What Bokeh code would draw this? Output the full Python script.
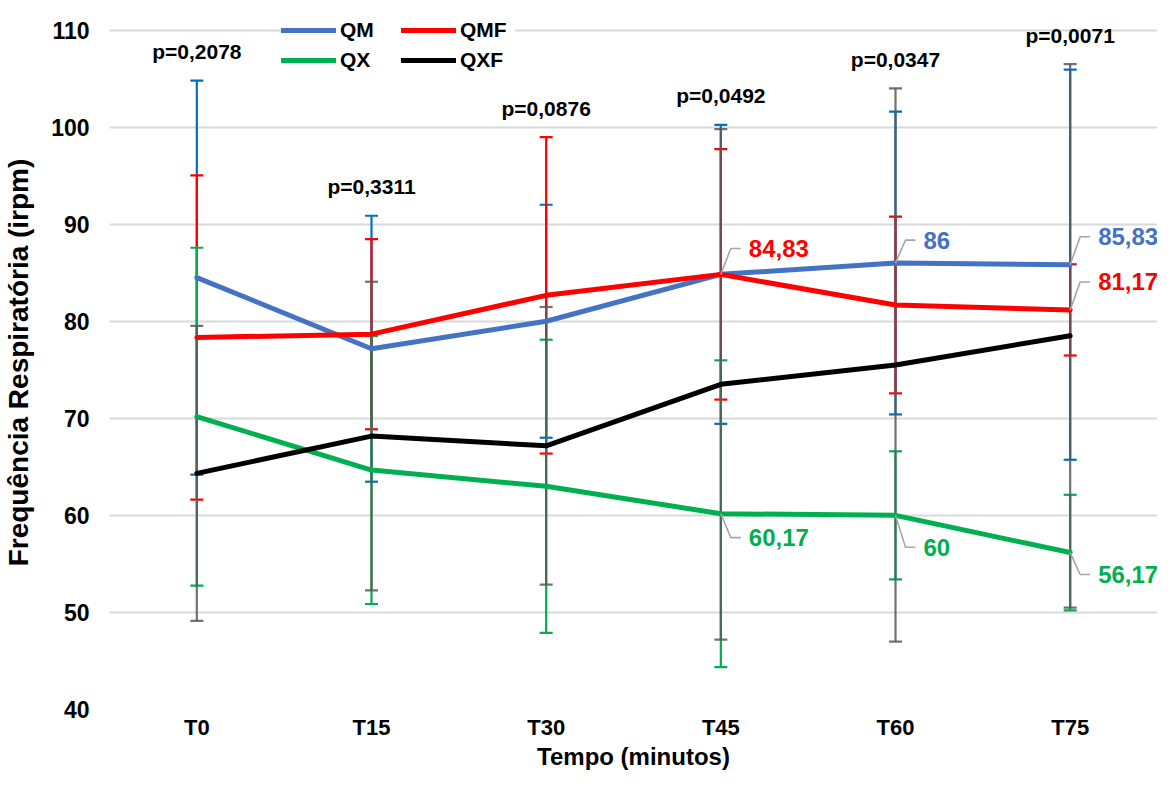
from bokeh.plotting import figure
from bokeh.models import FixedTicker, Legend, LegendItem, Range1d
from bokeh.embed import file_html
from bokeh.resources import INLINE
from bokeh.core.properties import value

# ---------------- data ----------------
categories = ["T0", "T15", "T30", "T45", "T60", "T75"]

qm_mean = [84.5, 77.17, 80.0, 84.83, 86.0, 85.83]
qm_sd = [20.3, 13.7, 12.0, 15.4, 15.6, 20.1]

qmf_mean = [78.33, 78.67, 82.67, 84.83, 81.67, 81.17]
qmf_sd = [16.7, 9.8, 16.3, 12.9, 9.1, 4.7]

qx_mean = [70.17, 64.67, 63.0, 60.17, 60.0, 56.17]
qx_sd = [17.4, 13.8, 15.1, 15.8, 6.6, 5.95]

qxf_mean = [64.33, 68.17, 67.17, 73.5, 75.5, 78.5]
qxf_sd = [15.2, 15.9, 14.3, 26.3, 28.5, 28.0]

p_values = ["p=0,2078", "p=0,3311", "p=0,0876", "p=0,0492", "p=0,0347", "p=0,0071"]

y_ticks = [40, 50, 60, 70, 80, 90, 100, 110]

# indices of points that carry a value label
qm_labels = [4, 5]
qmf_labels = [3, 5]
qx_labels = [3, 4, 5]

# ---------------- layout ----------------
W, H = 1157, 772
ML, MR, MT, MB = 108, 0, 15, 61
frame_w = W - ML - MR
frame_h = H - MT - MB
X0, X1 = -0.5, len(categories) - 0.5
Y0, Y1 = 40, 111.5
px_x = frame_w / (X1 - X0)
px_y = frame_h / (Y1 - Y0)

# screen-pixel offsets of the value labels (above: up, below: down)
qm_dy = [23, 28]
qmf_dy = [26, 28]
qx_dy = [24, 32, 22]

FONT = "Liberation Sans"
xs = list(range(len(categories)))

p = figure(width=W, height=H, output_backend="svg", toolbar_location=None,
           x_range=Range1d(X0, X1), y_range=Range1d(Y0, Y1),
           min_border_left=ML, min_border_right=MR, min_border_top=MT,
           min_border_bottom=MB, background_fill_color="white",
           border_fill_color="white")
p.outline_line_color = None

# axes
p.xaxis.ticker = FixedTicker(ticks=xs)
p.xaxis.major_label_overrides = {i: c for i, c in enumerate(categories)}
p.yaxis.ticker = FixedTicker(ticks=y_ticks)
for ax in (p.xaxis[0], p.yaxis[0]):
    ax.axis_line_color = None
    ax.major_tick_line_color = None
    ax.minor_tick_line_color = None
    ax.major_tick_out = 0
    ax.major_tick_in = 0
    ax.minor_tick_out = 0
    ax.major_label_text_font = FONT
    ax.major_label_text_font_style = "bold"
    ax.major_label_text_color = "#000000"
    ax.axis_label_text_font = FONT
    ax.axis_label_text_font_style = "bold"
    ax.axis_label_text_color = "#000000"
p.xaxis.major_label_text_font_size = "22px"
p.yaxis.major_label_text_font_size = "23px"
p.xaxis.axis_label = "Tempo (minutos)"
p.yaxis.axis_label = "Frequência Respiratória (irpm)"
p.xaxis.axis_label_text_font_size = "24px"
p.yaxis.axis_label_text_font_size = "28px"
p.xaxis.major_label_standoff = 5
p.xaxis.axis_label_standoff = 0
p.yaxis.major_label_standoff = 20
p.yaxis.axis_label_standoff = 14

p.xgrid.visible = False
p.ygrid.ticker = FixedTicker(ticks=y_ticks)
p.ygrid.grid_line_color = "#D9D9D9"
p.ygrid.grid_line_width = 2

series = [
    ("QM", qm_mean, qm_sd, "#4472C4", "#0070C0", 1.0),
    ("QMF", qmf_mean, qmf_sd, "#FF0000", "#FF0000", 1.0),
    ("QX", qx_mean, qx_sd, "#00B050", "#00B050", 1.0),
    ("QXF", qxf_mean, qxf_sd, "#000000", "#595959", 0.85),
]

# error bars (mean +/- sd)
for name, m, sd, lc, ec, ea in series:
    lo = [a - b for a, b in zip(m, sd)]
    hi = [a + b for a, b in zip(m, sd)]
    p.segment(x0=xs, y0=lo, x1=xs, y1=hi, line_color=ec, line_width=2.2, line_alpha=ea)
    p.scatter(x=xs + xs, y=lo + hi, marker="dash", size=13, line_color=ec,
              line_width=2.2, line_alpha=ea)

# lines
renderers = {}
for name, m, sd, lc, ec, ea in series:
    r = p.line(x=xs, y=m, line_color=lc, line_width=5, line_join="round",
               line_cap="round")
    renderers[name] = r

# p-value labels above the highest whisker
tops = [max(s[1][i] + s[2][i] for s in series) for i in xs]
p.text(x=xs, y=[t + 29 / px_y for t in tops], text=p_values,
       text_font=value(FONT), text_font_style="bold", text_font_size="21px",
       text_color="#000000", text_align="center", text_baseline="middle")

# data labels with leader lines
def fmt(v):
    return f"{v:g}".replace(".", ",")

def add_labels(idx, mean, dys, color, up):
    sgn = 1 if up else -1
    lx, ly, lt = [], [], []
    lxs, lys = [], []
    for i, d in zip(idx, dys):
        x, y = xs[i], mean[i]
        yy = y + sgn * d / px_y
        lxs.append([x, x + 10 / px_x, x + 20 / px_x])
        lys.append([y, yy, yy])
        lx.append(x + 28 / px_x)
        ly.append(yy)
        lt.append(fmt(y))
    p.multi_line(xs=lxs, ys=lys, line_color="#A6A6A6", line_width=1.6)
    p.text(x=lx, y=ly, text=lt, text_font=value(FONT), text_font_style="bold",
           text_font_size="24px", text_color=color, text_align="left",
           text_baseline="middle")

add_labels(qm_labels, qm_mean, qm_dy, "#4472C4", True)
add_labels(qmf_labels, qmf_mean, qmf_dy, "#FF0000", True)
add_labels(qx_labels, qx_mean, qx_dy, "#00B050", False)

# legend
legend = Legend(items=[LegendItem(label=n, renderers=[renderers[n]])
                       for n in ["QM", "QMF", "QX", "QXF"]],
                orientation="horizontal", ncols=2)
legend.location = (172, 637)
legend.glyph_width = 55
legend.glyph_height = 20
legend.label_height = 20
legend.label_width = 55
legend.label_standoff = 4
legend.spacing = 6
legend.padding = 5
legend.margin = 0
legend.label_text_font = FONT
legend.label_text_font_style = "bold"
legend.label_text_font_size = "21px"
legend.label_text_color = "#000000"
legend.border_line_color = None
legend.background_fill_color = "white"
legend.background_fill_alpha = 1.0
p.add_layout(legend, "center")

open("out.html", "w").write(file_html(p, INLINE))
